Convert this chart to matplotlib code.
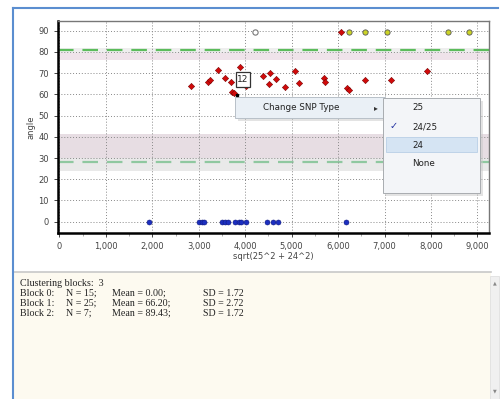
import numpy as np
import matplotlib.pyplot as plt
from matplotlib.patches import Rectangle, FancyBboxPatch

# cluster data
block0_x = [1930, 3000, 3060, 3110, 3510, 3570, 3630, 3790, 3860, 3920, 4020, 4480, 4590, 4700, 6180]
block0_y = [0] * len(block0_x)

block1_x = [2840, 3200, 3250, 3420, 3570, 3720, 3700, 3890, 4020, 4380, 4540, 4670, 4520, 4860,
            5080, 5150, 5690, 5720, 6200, 6240, 6580, 7130, 7920, 3760]
block1_y = [63.7, 66.0, 66.8, 71.5, 67.6, 61.0, 66.0, 73.0, 63.7, 68.4, 70.0, 67.3, 65.0, 63.4,
            70.9, 65.4, 67.6, 65.7, 63.0, 62.1, 66.5, 66.5, 70.9, 60.5]

block2_x = [6060, 6230, 6580, 7050, 8370, 8820]
block2_y = [89.5, 89.5, 89.5, 89.5, 89.5, 89.5]
hollow_x = [4220]
hollow_y = [89.5]

x_ticks = np.arange(0, 9001, 1000)
y_ticks = np.arange(0, 91, 10)

lines_txt = [
    ["Block 0:", "N = 15;", "Mean = 0.00;", "SD = 1.72"],
    ["Block 1:", "N = 25;", "Mean = 66.20;", "SD = 2.72"],
    ["Block 2:", "N = 7;", "Mean = 89.43;", "SD = 1.72"],
]
menu_items = ["25", "24/25", "24", "None"]

W, H = 501, 399
fig = plt.figure(figsize=(W / 100, H / 100), dpi=100)
fig.patch.set_facecolor("white")

# background / window overlay in pixel coords
bg = fig.add_axes([0, 0, 1, 1], zorder=0)
bg.set_xlim(0, W)
bg.set_ylim(H, 0)
bg.axis("off")
bg.add_patch(Rectangle((13, 8), 478, 264, facecolor="white", edgecolor="none"))
bg.add_patch(Rectangle((13, 272), 478, 127, facecolor="#fdfaf0", edgecolor="none"))
bg.plot([13, 491], [271.5, 271.5], color="#c8c8c8", lw=1.2)
bg.plot([13, 498], [8, 8], color="#5b8ed0", lw=1.5)
bg.plot([13, 13], [8, 399], color="#5b8ed0", lw=1.5)
bg.add_patch(Rectangle((490, 276), 9, 123, facecolor="#f0f0f0", edgecolor="#e0e0e0", lw=0.6))
bg.text(494.5, 283, "▲", fontsize=3.5, color="#888888", ha="center", va="center")
bg.text(494.5, 391, "▼", fontsize=3.5, color="#888888", ha="center", va="center")

# text panel
tfont = dict(family="Liberation Serif", fontsize=7.2, color="#222222", va="center")
bg.text(20, 283, "Clustering blocks:  3", **tfont)
cols = [20, 66, 112, 203]
for i, row in enumerate(lines_txt):
    for c, s in zip(cols, row):
        bg.text(c, 293 + 10 * i, s, **tfont)

# chart
ax = fig.add_axes([58 / W, 1 - 233 / H, (489 - 58) / W, (233 - 21) / H], zorder=1)
ax.set_xlim(-30, 9250)
ax.set_ylim(-5.3, 94.5)
ax.set_facecolor("white")

ax.axhspan(30, 41.5, color="#e7dde3", zorder=0, lw=0)
ax.axhspan(24, 30, color="#e9e9e9", zorder=0, lw=0)
ax.axhspan(76, 79.5, color="#efe3ea", zorder=0, lw=0)
ax.axhspan(79.5, 82, color="#eeeeee", zorder=0, lw=0)
ax.axhline(81, color="#5cbc5c", lw=1.6, ls=(0, (7, 4)), zorder=1)
ax.axhline(28, color="#8fc8a0", lw=1.6, ls=(0, (7, 4)), zorder=1)

ax.set_xticks(x_ticks)
ax.set_yticks(y_ticks)
ax.set_xticklabels([f"{v:,}" for v in x_ticks])
ax.set_xticks(np.arange(500, 9250, 500), minor=True)
ax.grid(True, color="#888888", ls=(0, (1, 2)), lw=0.7)
ax.tick_params(labelsize=6, colors="#444444", length=3, width=0.7)
ax.tick_params(which="minor", length=2, width=0.5, color="#888888")

for side in ["left", "bottom"]:
    ax.spines[side].set_linewidth(1.8)
    ax.spines[side].set_color("black")
for side in ["top", "right"]:
    ax.spines[side].set_linewidth(1)
    ax.spines[side].set_color("#777777")

ax.set_xlabel("sqrt(25^2 + 24^2)", fontsize=6, color="#444444", labelpad=1)
ax.set_ylabel("angle", fontsize=6, color="#444444", labelpad=2)

ax.plot(block0_x, block0_y, "o", color="#1c2fc0", ms=3.6, mec="#101a80", mew=0.4, zorder=3)
ax.plot(block1_x, block1_y, "D", color="#d10a0a", ms=3.2, mec="#7a0000", mew=0.4, zorder=3)
ax.plot([6060], [89.5], "D", color="#d10a0a", ms=3.2, mec="#7a0000", mew=0.4, zorder=3)
ax.plot(block2_x[1:], block2_y[1:], "o", color="#cbd326", ms=3.8, mec="#555555", mew=0.6, zorder=3)
ax.plot(hollow_x, hollow_y, "o", color="white", ms=3.8, mec="#777777", mew=0.8, zorder=3)

# overlay: label box and context menu
ov = fig.add_axes([0, 0, 1, 1], zorder=5)
ov.set_xlim(0, W)
ov.set_ylim(H, 0)
ov.axis("off")
ov.patch.set_alpha(0)
ov.add_patch(Rectangle((236, 72), 14, 15, facecolor="white", edgecolor="#333333", lw=0.9))
ov.text(243, 79.5, "12", fontsize=6.5, ha="center", va="center", color="#222222")
ov.plot([237], [95], "s", color="black", ms=2)

# shadows
ov.add_patch(Rectangle((238, 100), 150, 21, facecolor="#c8c8c8", alpha=0.5, edgecolor="none"))
ov.add_patch(Rectangle((386, 101), 97, 95, facecolor="#c8c8c8", alpha=0.5, edgecolor="none"))
ov.add_patch(Rectangle((235, 97), 150, 21, facecolor="#eaf0f6", edgecolor="#b8c0c8", lw=0.7))
ov.text(263, 107.5, "Change SNP Type", fontsize=6.3, va="center", color="#222222")
ov.text(376, 107.5, "▸", fontsize=5.5, va="center", ha="center", color="#333333")
ov.add_patch(Rectangle((383, 98), 97, 95, facecolor="#f3f5f8", edgecolor="#a8acb0", lw=0.7))
ov.add_patch(Rectangle((386, 137), 91, 15, facecolor="#d5e4f3", edgecolor="#b8cfe6", lw=0.6))
for i, s in enumerate(menu_items):
    ov.text(412, 108 + 18.5 * i, s, fontsize=6.3, va="center", color="#222222")
ov.text(394, 126.5, "✓", fontsize=7, va="center", ha="center", color="#2030a0")

fig.savefig("out.png", dpi=100)
